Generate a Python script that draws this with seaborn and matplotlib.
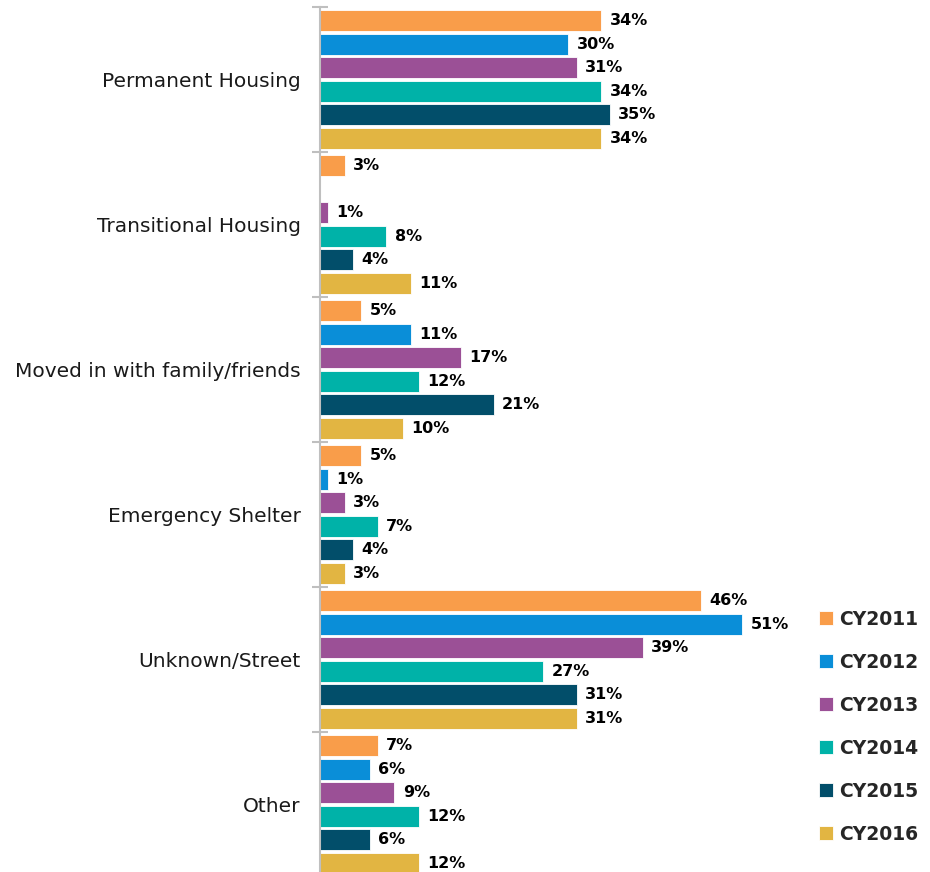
import numpy as np
import pandas as pd
import matplotlib.pyplot as plt
import seaborn as sns

categories = ["Permanent Housing", "Transitional Housing", "Moved in with family/friends",
              "Emergency Shelter", "Unknown/Street", "Other"]
years = ["CY2011", "CY2012", "CY2013", "CY2014", "CY2015", "CY2016"]
colors = ["#F99D4A", "#0A8ED8", "#9B5096", "#00B2A8", "#024E6A", "#E2B542"]

cy2011 = [34, 3, 5, 5, 46, 7]
cy2012 = [30, np.nan, 11, 1, 51, 6]
cy2013 = [31, 1, 17, 3, 39, 9]
cy2014 = [34, 8, 12, 7, 27, 12]
cy2015 = [35, 4, 21, 4, 31, 6]
cy2016 = [34, 11, 10, 3, 31, 12]

series = [cy2011, cy2012, cy2013, cy2014, cy2015, cy2016]
rows = []
for yr, vals in zip(years, series):
    for cat, v in zip(categories, vals):
        rows.append({"category": cat, "year": yr, "value": v})
df = pd.DataFrame(rows)

sns.set_style("white")
plt.rcParams["font.family"] = ["DejaVu Sans"]

fig = plt.figure(figsize=(9.3, 8.72), dpi=100)
ax = fig.add_axes([320 / 930, -5 / 872, 480 / 930, 870 / 872])

sns.barplot(data=df, x="value", y="category", hue="year", order=categories,
            hue_order=years, palette=colors, saturation=1, orient="h",
            width=0.97, gap=0.1, edgecolor="white", linewidth=0.6, ax=ax)

for cont in ax.containers:
    ax.bar_label(cont, fmt="%d%%", padding=6, fontsize=11.5, fontweight="bold",
                 color="black")

ax.set_xlim(0, 58)
ax.set_ylim(len(categories) - 0.5, -0.5)
ax.set_xlabel("")
ax.set_ylabel("")
ax.set_xticks([])
ax.tick_params(axis="y", which="major", length=0, labelsize=14.5, pad=14,
               labelcolor="#1a1a1a")
ax.set_yticks(np.arange(-0.5, len(categories), 1), minor=True)
ax.tick_params(axis="y", which="minor", left=True, direction="inout", length=12,
               color="#BFBFBF", width=1.5)
for side in ["top", "right", "bottom"]:
    ax.spines[side].set_visible(False)
ax.spines["left"].set_color("#BFBFBF")
ax.spines["left"].set_linewidth(1.5)

handles, labels = ax.get_legend_handles_labels()
ax.legend(handles, labels, loc="upper left", bbox_to_anchor=(802 / 930, 1 - 593 / 872),
          bbox_transform=fig.transFigure, frameon=False, handlelength=0.75,
          handleheight=0.75, handletextpad=0.35, labelspacing=1.28,
          prop={"weight": "bold", "size": 13.5})

fig.savefig("out.png", dpi=100)
plt.close(fig)
